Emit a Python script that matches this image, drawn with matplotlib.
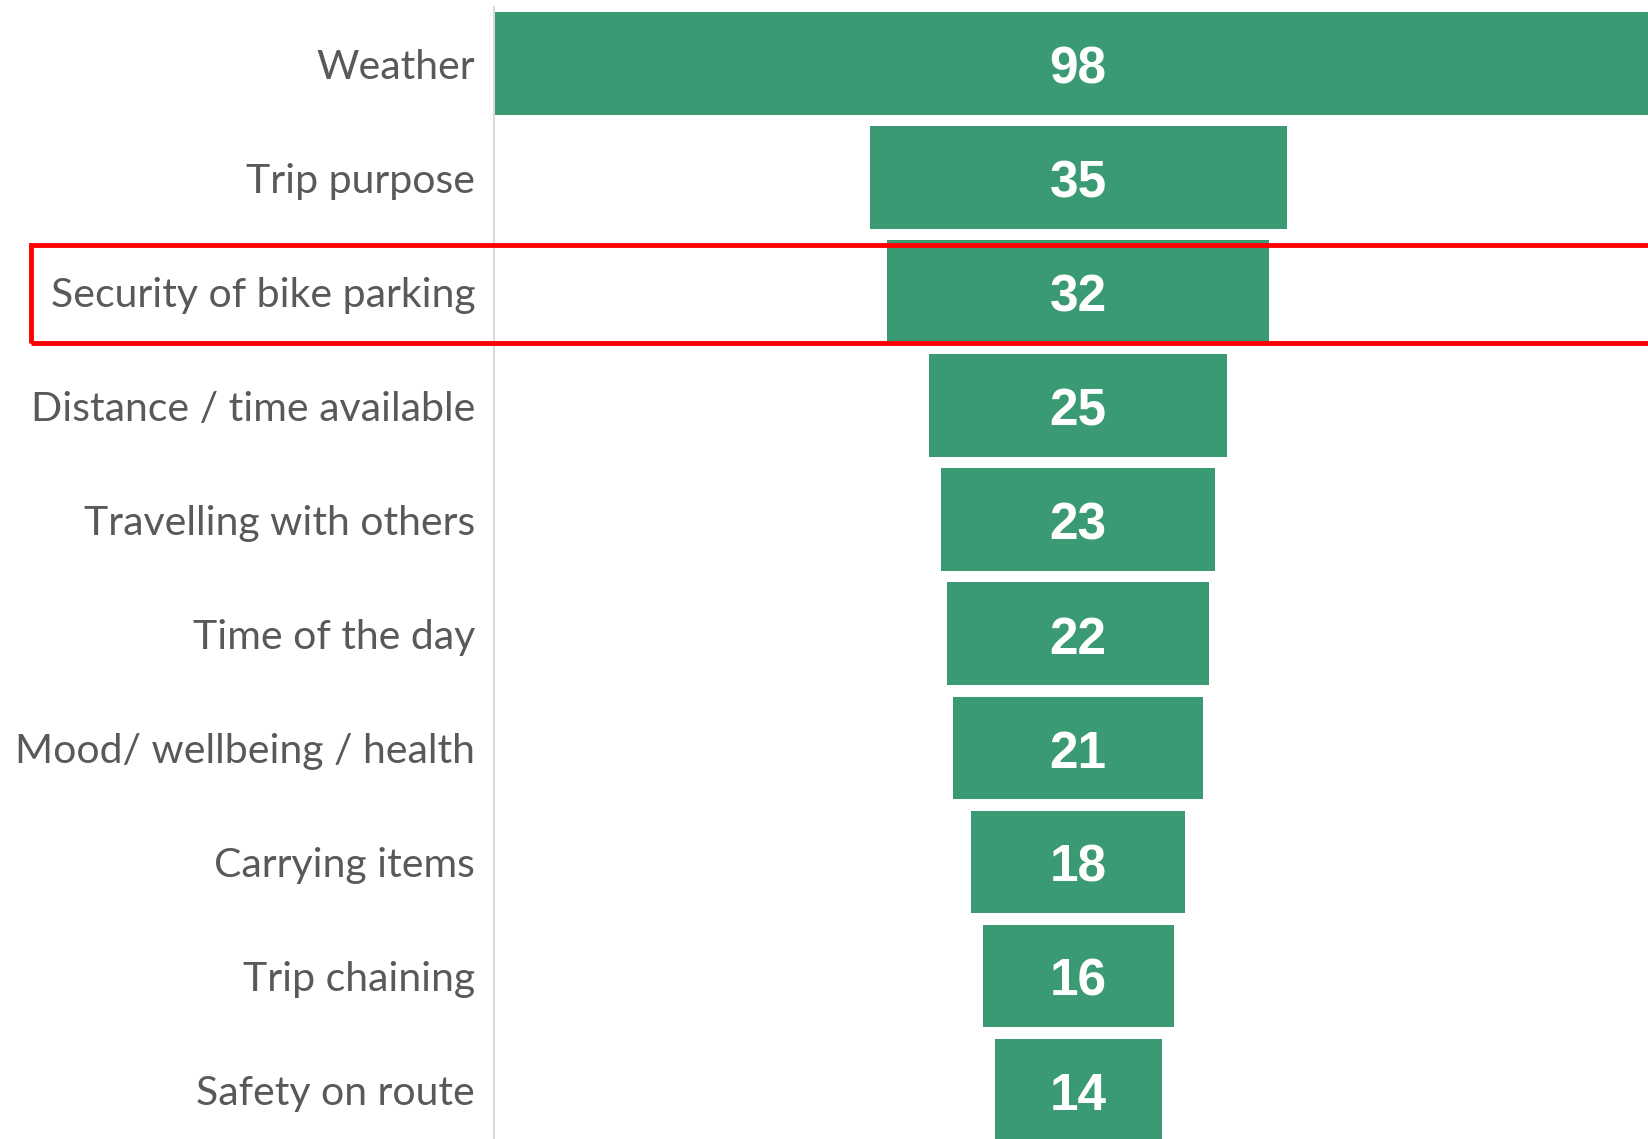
import matplotlib
matplotlib.use("Agg")
import matplotlib.pyplot as plt
from matplotlib.patches import Rectangle

categories = ["Weather", "Trip purpose", "Security of bike parking",
              "Distance / time available", "Travelling with others",
              "Time of the day", "Mood/ wellbeing / health",
              "Carrying items", "Trip chaining", "Safety on route"]
values = [98, 35, 32, 25, 23, 22, 21, 18, 16, 14]
highlight = "Security of bike parking"

W, H = 1648, 1139
fig = plt.figure(figsize=(W / 100, H / 100), dpi=100)
ax = fig.add_axes([494 / W, 0, 1 - 494 / W, (H - 7) / H])

bar_color = "#3A9A74"
pos = list(range(len(categories)))
lefts = [-v / 2 for v in values]
ax.barh(pos, values, left=lefts, height=0.9, color=bar_color)

for p, v in zip(pos, values):
    ax.text(0, p + 0.175, str(v), ha="center", va="baseline", color="white",
            fontsize=37, fontweight="bold", family="Liberation Sans")

ax.set_xlim(-49, 47.8)
ax.set_ylim(9.43, -0.496)
ax.set_yticks(pos)
ax.set_yticklabels(categories, fontsize=29.5, color="#595959", family="Lato")
ax.tick_params(axis="y", length=0, pad=13.5)
ax.set_xticks([])
for s in ["top", "right", "bottom"]:
    ax.spines[s].set_visible(False)
ax.spines["left"].set_color("#D9D9D9")
ax.spines["left"].set_linewidth(1.5)

# red box around the highlighted row
y_top = 245
y_bot = 343
fig.patches.append(Rectangle((31 / W, 1 - y_bot / H), (W + 10 - 31) / W, (y_bot - y_top) / H,
                             transform=fig.transFigure, fill=False,
                             edgecolor="#FF0000", linewidth=3.5, zorder=5))

fig.savefig("out.png", dpi=100)
